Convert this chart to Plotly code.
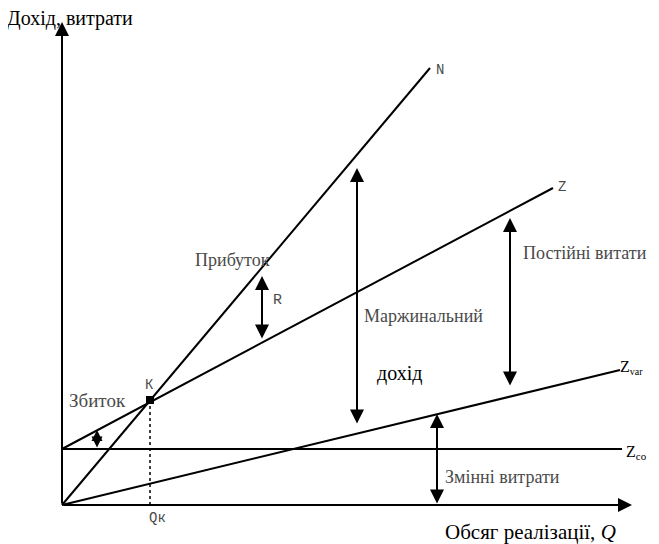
import plotly.graph_objects as go

# Values (arbitrary units: Q on x, revenue/cost on y)
n_q = [0, 368]          # revenue line N
n_val = [0, 437]
z_q = [0, 491]          # total costs Z
z_val = [56, 317]
zvar_q = [0, 558]       # variable costs Zvar
zvar_val = [0, 135]
zco_q = [0, 560]        # fixed costs Zco
zco_val = [56, 56]
k_q = [88]              # break-even point K
k_val = [105]

FONT = "Liberation Serif, Times New Roman, DejaVu Serif, serif"
MONO = "Liberation Mono, Courier New, DejaVu Sans Mono, monospace"
GRAY = "#4a4a4a"

fig = go.Figure()
line = dict(color="black", width=2)
for xs, ys in [(n_q, n_val), (z_q, z_val), (zvar_q, zvar_val), (zco_q, zco_val)]:
    fig.add_trace(go.Scatter(x=xs, y=ys, mode="lines", line=line, hoverinfo="skip"))

# dotted drop line from K to Qk
fig.add_trace(go.Scatter(x=[k_q[0], k_q[0]], y=[k_val[0], 0], mode="lines",
                         line=dict(color="black", width=1.5, dash="dot"), hoverinfo="skip"))
fig.add_trace(go.Scatter(x=k_q, y=k_val, mode="markers",
                         marker=dict(symbol="square", size=8, color="black"), hoverinfo="skip"))

ann = []
def arrow(x0, y0, x1, y1, both=False, width=2, size=1.4):
    ann.append(dict(x=x1, y=y1, ax=x0, ay=y0, xref="x", yref="y", axref="x", ayref="y",
                    showarrow=True, arrowhead=2, arrowsize=size, arrowwidth=width,
                    arrowcolor="black", arrowside="end+start" if both else "end", text=""))

# axes
arrow(0, 0, 0, 483)
arrow(0, 0, 570, 0)
# dimension arrows
arrow(200, 165, 200, 229, both=True)   # R
arrow(295, 80, 295, 337, both=True)    # marginal income
arrow(448, 118, 448, 287, both=True)   # fixed costs
arrow(375, 0, 375, 91, both=True)      # variable costs
arrow(35, 56, 35, 75, both=True, size=1.1)  # loss

def label(x, y, t, size=18, color=GRAY, family=FONT, xanchor="left", xshift=0):
    ann.append(dict(x=x, y=y, xref="x", yref="y", text=t, showarrow=False,
                    xanchor=xanchor, yanchor="middle", xshift=xshift,
                    font=dict(family=family, size=size, color=color)))

label(-54, 487, "Дохід, витрати", size=20, color="black", xshift=-3)
label(381, -27, "Обсяг реалізації, <i>Q</i>", size=21, color="black")
label(131, 245, "Прибуток")
label(215, 205, "R", size=15, family=MONO, xanchor="center")
label(300, 189, "Маржинальний")
label(313, 132, "дохід", size=20, color="black")
label(459, 252, "Постійні витати")
label(381, 28, "Змінні витрати")
label(5, 105, "Збиток", size=19)
label(87, 120, "К", size=14, family=MONO, xanchor="center")
label(95, -13, "Qк", size=14, family=MONO, xanchor="center")
label(378, 435, "N", size=14, family=MONO, xanchor="center")
label(500, 318, "Z", size=14, family=MONO, xanchor="center")
label(556, 138, "Z<sub><span style='font-size:10px'>var</span></sub>", size=16, color="black")
label(562, 53, "Z<sub><span style='font-size:11px'>co</span></sub>", size=16, color="black")

# The page body has an 8px margin: size the figure so it fills the window exactly.
fig.update_layout(
    width=651, height=536,
    margin=dict(l=0, r=0, t=0, b=0),
    paper_bgcolor="white", plot_bgcolor="white",
    showlegend=False,
    xaxis=dict(range=[-54, 597], visible=False, fixedrange=True),
    yaxis=dict(range=[-39, 497], visible=False, fixedrange=True),
    annotations=ann,
)
fig.write_html("out.html")
